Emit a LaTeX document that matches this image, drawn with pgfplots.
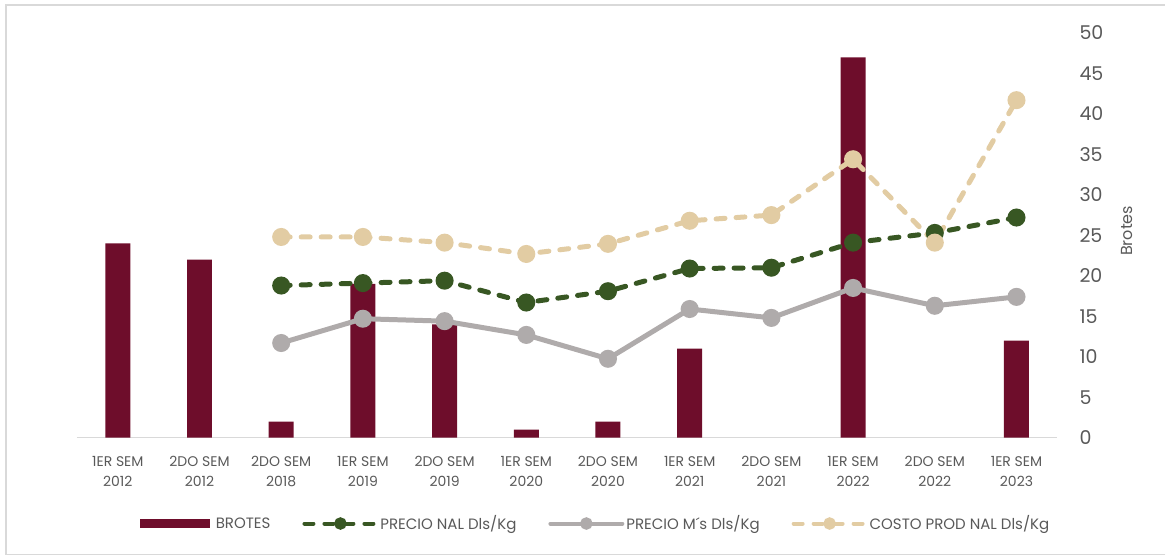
\documentclass[border=0pt]{standalone}
\usepackage{pgfplots}
\pgfplotsset{compat=1.18}
\usepackage{fontspec}
\setmainfont{Poppins}
\definecolor{barc}{RGB}{110,13,43}
\definecolor{grn}{RGB}{56,87,35}
\definecolor{gry}{RGB}{175,171,171}
\definecolor{tanc}{RGB}{226,204,163}
\definecolor{txt}{RGB}{89,89,89}
\definecolor{frm}{RGB}{217,217,217}
\pgfplotsset{linelegend/.style={legend image code/.code={\draw[mark repeat=2,mark phase=2,##1,line width=4pt,mark size=4.2pt] plot coordinates {(0pt,0pt)(36pt,0pt)(72pt,0pt)};}}}
\begin{document}
\begin{tikzpicture}[x=1pt,y=1pt]
\path (0,0) rectangle (1166,556);
\draw[frm, line width=1.5pt] (1166,1) -- (6,1) -- (6,551) -- (1166,551);
\begin{axis}[
  at={(77pt,118pt)}, anchor=south west, scale only axis,
  width=981pt, height=405pt,
  xmin=-0.5, xmax=11.5, ymin=0, ymax=50,
  axis x line*=bottom, axis y line*=right,
  x axis line style={draw=frm, line width=1.5pt, -},
  y axis line style={draw=none},
  ytick={0,5,...,50}, xtick={0,...,11},
  xticklabels={{1ER SEM\\2012},{2DO SEM\\2012},{2DO SEM\\2018},{1ER SEM\\2019},{2DO SEM\\2019},{1ER SEM\\2020},{2DO SEM\\2020},{1ER SEM\\2021},{2DO SEM\\2021},{1ER SEM\\2022},{2DO SEM\\2022},{1ER SEM\\2023}},
  major tick length=0pt,
  tick label style={text=txt},
  /pgf/number format/assume math mode=true,
  yticklabel style={anchor=west, inner sep=0pt, xshift=22pt, font=\fontsize{19}{19}\selectfont},
  xticklabel style={anchor=north, inner sep=0pt, yshift=-18pt, align=center, font=\fontsize{14}{20}\selectfont},
  legend columns=4,
  legend style={at={(0.529,-0.212)}, anchor=center, draw=none, fill=none,
    font=\fontsize{15}{17}\selectfont, text=txt,
    /tikz/every even column/.append style={column sep=30pt}},
  legend cell align=left,
  clip=false,
]
\addplot[ybar, bar width=25pt, fill=barc, draw=none,
  legend image code/.code={\fill[barc] (0pt,-4.5pt) rectangle (70pt,4.5pt); \path (74pt,0pt);}]
  coordinates {(0,24) (1,22) (2,2) (3,19) (4,14) (5,1) (6,2) (7,11) (9,47) (11,12)};
\addlegendentry{BROTES}
\addplot[grn, line width=5pt, line cap=round, dash pattern=on 9pt off 11pt,
  mark=*, mark size=6.5pt, mark options={solid, draw=none, fill=grn}, linelegend]
  coordinates {(2,18.8) (3,19.1) (4,19.4) (5,16.7) (6,18.1) (7,20.9) (8,21.0) (9,24.1) (10,25.3) (11,27.2)};
\addlegendentry{PRECIO NAL Dls/Kg}
\addplot[gry, line width=5pt, line cap=round,
  mark=*, mark size=6.5pt, mark options={solid, draw=none, fill=gry}, linelegend]
  coordinates {(2,11.7) (3,14.7) (4,14.4) (5,12.7) (6,9.75) (7,15.9) (8,14.8) (9,18.5) (10,16.3) (11,17.4)};
\addlegendentry{PRECIO M´s Dls/Kg}
\addplot[tanc, line width=5pt, line cap=round, dash pattern=on 9pt off 11pt,
  mark=*, mark size=6.5pt, mark options={solid, draw=none, fill=tanc}, linelegend]
  coordinates {(2,24.8) (3,24.8) (4,24.1) (5,22.7) (6,23.95) (7,26.8) (8,27.5) (9,34.4) (10,24.1) (11,41.7)};
\addlegendentry{COSTO PROD NAL Dls/Kg}
\end{axis}
\node[rotate=90, text=txt, font=\fontsize{16}{16}\selectfont] at (1128pt,325pt) {Brotes};
\end{tikzpicture}
\end{document}
